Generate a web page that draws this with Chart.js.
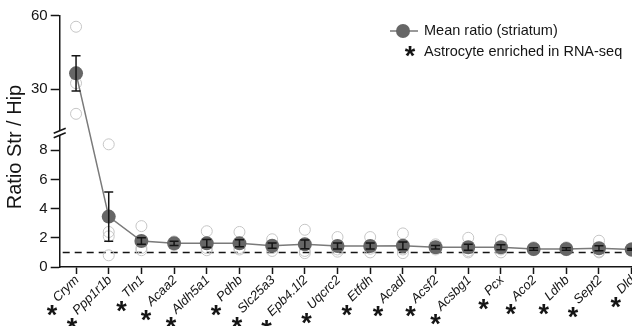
<!DOCTYPE html>
<html>
<head>
<meta charset="utf-8">
<script src="https://cdn.jsdelivr.net/npm/chart.js@4.4.1/dist/chart.umd.min.js"></script>
<style>
  html, body { margin: 0; padding: 0; background: #fff; overflow: hidden; width: 632px; height: 326px; }
  canvas { display: block; }
</style>
</head>
<body>
<canvas id="chart" width="660" height="326"></canvas>
<script>
// Genes (x categories)
const genes = ['Crym', 'Ppp1r1b', 'Tln1', 'Acaa2', 'Aldh5a1', 'Pdhb', 'Slc25a3', 'Epb4.1l2', 'Uqcrc2',
               'Etfdh', 'Acadl', 'Acsf2', 'Acsbg1', 'Pcx', 'Aco2', 'Ldhb', 'Sept2', 'Dld'];

// Mean ratio Str/Hip and its SEM
const meanRatio = [36.5, 3.45, 1.78, 1.62, 1.62, 1.62, 1.46, 1.55, 1.44, 1.44, 1.46, 1.35, 1.35, 1.35, 1.23, 1.23, 1.28, 1.2];
const semRatio  = [7.2, 1.68, 0.22, 0.15, 0.26, 0.24, 0.18, 0.3, 0.2, 0.2, 0.26, 0.12, 0.2, 0.17, 0.08, 0.08, 0.17, 0.06];

// Individual animals (4 per gene)
const rep1 = [55.5, 8.4, 2.8, 1.75, 2.45, 2.4, 1.9, 2.55, 2.05, 2.05, 2.3, 1.55, 2.0, 1.85, 1.35, 1.35, 1.8, 1.3];
const rep2 = [37.0, 2.4, 1.75, 1.6, 1.6, 1.6, 1.5, 1.6, 1.4, 1.4, 1.4, 1.4, 1.35, 1.35, 1.25, 1.25, 1.3, 1.2];
const rep3 = [32.5, 2.1, 1.3, 1.5, 1.3, 1.3, 1.3, 1.1, 1.2, 1.25, 1.2, 1.3, 1.1, 1.2, 1.2, 1.2, 1.05, 1.15];
const rep4 = [20.0, 0.8, 1.15, 1.6, 1.15, 1.2, 1.1, 0.95, 1.05, 1.0, 0.95, 1.2, 1.0, 1.0, 1.15, 1.15, 1.0, 1.1];

// Astrocyte enriched in RNA-seq (asterisk under label)
const astroEnriched = [true, true, true, true, true, true, true, true, true, true, true, true, true, true, true, true, true, true];

const yTickValues = [0, 2, 4, 6, 8, 30, 60];
const refLine = 1;

// broken axis: 0..8 linear, upper segment compressed
const BREAK_AT = 9.3;
function toAxis(v) {
    return v <= 10 ? v : 12.17 + (v - 30) * 0.168;
}

const FONT = '"Liberation Sans", Arial, Helvetica, sans-serif';
const INK = '#151515';

const replicatePoints = [];
[rep1, rep2, rep3, rep4].forEach(rep => {
    rep.forEach((v, i) => replicatePoints.push({ x: genes[i], y: toAxis(v) }));
});

const extras = {
    id: 'extras',
    beforeDatasetsDraw(chart) {
        const { ctx, chartArea } = chart;
        const y = chart.scales.y.getPixelForValue(refLine);
        ctx.save();
        ctx.strokeStyle = INK;
        ctx.lineWidth = 1.5;
        ctx.setLineDash([7, 5]);
        ctx.beginPath();
        ctx.moveTo(chartArea.left + 3, y);
        ctx.lineTo(chartArea.right, y);
        ctx.stroke();
        ctx.restore();
    },
    afterDatasetsDraw(chart) {
        const { ctx } = chart;
        const xs = chart.scales.x, ys = chart.scales.y;
        ctx.save();
        ctx.strokeStyle = INK;
        ctx.lineWidth = 1.5;
        meanRatio.forEach((m, i) => {
            const x = xs.getPixelForValue(i);
            const yt = ys.getPixelForValue(toAxis(m + semRatio[i]));
            const yb = ys.getPixelForValue(toAxis(m - semRatio[i]));
            ctx.beginPath();
            ctx.moveTo(x, yt); ctx.lineTo(x, yb);
            ctx.moveTo(x - 4.5, yt); ctx.lineTo(x + 4.5, yt);
            ctx.moveTo(x - 4.5, yb); ctx.lineTo(x + 4.5, yb);
            ctx.stroke();
        });
        ctx.restore();
    },
    afterDraw(chart) {
        const { ctx, chartArea } = chart;
        const xs = chart.scales.x, ys = chart.scales.y;
        const ax = chartArea.left;

        // axis break
        const yb = ys.getPixelForValue(BREAK_AT);
        ctx.save();
        ctx.fillStyle = '#fff';
        ctx.beginPath();
        ctx.moveTo(ax - 6, yb + 2); ctx.lineTo(ax + 6, yb - 3);
        ctx.lineTo(ax + 6, yb + 1.5); ctx.lineTo(ax - 6, yb + 6.5);
        ctx.closePath();
        ctx.fill();
        ctx.strokeStyle = INK;
        ctx.lineWidth = 1.6;
        ctx.beginPath();
        ctx.moveTo(ax - 6, yb + 2); ctx.lineTo(ax + 6, yb - 3);
        ctx.moveTo(ax - 6, yb + 6.5); ctx.lineTo(ax + 6, yb + 1.5);
        ctx.stroke();

        // x labels (italic, rotated) + asterisks
        const base = chartArea.bottom;
        ctx.fillStyle = INK;
        genes.forEach((g, i) => {
            const x = xs.getPixelForValue(i);
            ctx.font = 'italic 13px ' + FONT;
            const w = ctx.measureText(g).width;
            ctx.save();
            ctx.translate(x + 1, base + 11);
            ctx.rotate(-Math.PI / 4);
            ctx.textAlign = 'right';
            ctx.textBaseline = 'middle';
            ctx.fillText(g, 0, 0);
            ctx.restore();
            if (astroEnriched[i]) {
                ctx.font = 'bold 27px ' + FONT;
                ctx.textAlign = 'center';
                ctx.textBaseline = 'middle';
                ctx.fillText('*', x + 1 - w * 0.707 - 3, base + 11 + w * 0.707 + 17);
            }
        });

        // y title
        ctx.save();
        ctx.translate(15, 147);
        ctx.rotate(-Math.PI / 2);
        ctx.font = '20px ' + FONT;
        ctx.textAlign = 'center';
        ctx.textBaseline = 'middle';
        ctx.fillStyle = INK;
        ctx.fillText('Ratio Str / Hip', 0, 0);
        ctx.restore();

        // legend
        ctx.strokeStyle = '#777';
        ctx.lineWidth = 1.5;
        ctx.beginPath();
        ctx.moveTo(390, 31); ctx.lineTo(418, 31);
        ctx.stroke();
        ctx.fillStyle = '#666';
        ctx.beginPath();
        ctx.arc(403, 31, 7, 0, Math.PI * 2);
        ctx.fill();
        ctx.fillStyle = INK;
        ctx.font = '14.5px ' + FONT;
        ctx.textAlign = 'left';
        ctx.textBaseline = 'middle';
        ctx.fillText('Mean ratio (striatum)', 424, 31);
        ctx.fillText('Astrocyte enriched in RNA-seq', 424, 52);
        ctx.font = 'bold 27px ' + FONT;
        ctx.textAlign = 'center';
        ctx.fillText('*', 410, 58);
        ctx.restore();
    }
};

new Chart(document.getElementById('chart'), {
    type: 'line',
    data: {
        labels: genes,
        datasets: [
            {
                label: 'Mean ratio (striatum)',
                data: meanRatio.map(toAxis),
                borderColor: '#7a7a7a',
                borderWidth: 1.5,
                pointRadius: 7,
                pointBackgroundColor: '#666',
                pointBorderColor: '#666',
                pointBorderWidth: 0,
                tension: 0,
                clip: false
            },
            {
                label: 'Individual',
                data: replicatePoints,
                showLine: false,
                pointRadius: 5.5,
                pointBorderColor: '#c6c6c6',
                pointBackgroundColor: 'rgba(255,255,255,0)',
                pointBorderWidth: 1,
                clip: false
            }
        ]
    },
    options: {
        responsive: false,
        animation: false,
        layout: { padding: { left: 0, right: 12, top: 15.7, bottom: 0 } },
        plugins: {
            legend: { display: false },
            tooltip: { enabled: false }
        },
        scales: {
            x: {
                type: 'category',
                offset: true,
                afterFit: s => { s.height = 59; },
                ticks: { display: false },
                grid: { drawOnChartArea: false, offset: false, tickLength: 7, tickColor: INK, tickWidth: 1.5 },
                border: { color: INK, width: 1.5 }
            },
            y: {
                min: 0,
                max: toAxis(60),
                afterBuildTicks: s => { s.ticks = yTickValues.map(v => ({ value: toAxis(v) })); },
                afterFit: s => { s.width = 59.7; },
                ticks: {
                    font: { family: FONT, size: 15 },
                    color: INK,
                    padding: 3,
                    callback: (val, idx) => yTickValues[idx]
                },
                grid: { drawOnChartArea: false, tickLength: 9, tickColor: INK, tickWidth: 1.5 },
                border: { color: INK, width: 1.5 }
            }
        }
    },
    plugins: [extras]
});
</script>
</body>
</html>
